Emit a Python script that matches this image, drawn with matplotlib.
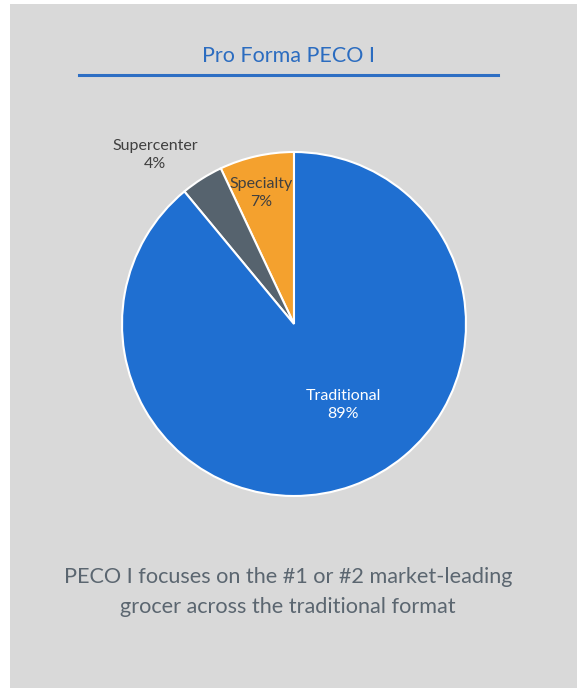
import matplotlib
matplotlib.use("Agg")
import matplotlib.pyplot as plt
from matplotlib.patches import Rectangle
from matplotlib.lines import Line2D

categories = ["Specialty", "Supercenter", "Traditional"]
values = [7, 4, 89]
pct_labels = ["7%", "4%", "89%"]
colors = ["#f4a12e", "#56636e", "#1f6fd1"]
title = "Pro Forma PECO I"
caption = "PECO I focuses on the #1 or #2 market-leading\ngrocer across the traditional format"

W, H = 581, 688
fig = plt.figure(figsize=(W / 100, H / 100), dpi=100)
fig.patch.set_facecolor("white")
fig.add_artist(Rectangle((10 / W, 0), (577 - 10) / W, (H - 4) / H,
                         transform=fig.transFigure, facecolor="#d9d9d9",
                         edgecolor="none", zorder=0))

fam = ["Lato", "DejaVu Sans"]
fig.text(288 / W, 1 - 56 / H, title, ha="center", va="center",
         fontsize=15.5, color="#2b6cc0", family=fam)
fig.add_artist(Line2D([79 / W, 498 / W], [1 - 75 / H, 1 - 75 / H],
                      transform=fig.transFigure, color="#2e6fc4", lw=2.2))

cx, cy, r = 294, 324, 172
ax = fig.add_axes([(cx - r) / W, 1 - (cy + r) / H, 2 * r / W, 2 * r / H])
ax.set_aspect("equal")
wedges, _ = ax.pie(values, colors=colors, startangle=90, counterclock=True,
                   wedgeprops=dict(edgecolor="white", linewidth=1.5))
ax.set_xlim(-1, 1)
ax.set_ylim(-1, 1)
ax.axis("off")

lab_kw = dict(ha="center", va="center", fontsize=11.5, family=fam, linespacing=1.45)
fig.text(155 / W, 1 - 155 / H, f"{categories[1]}\n{pct_labels[1]}",
         color="#404040", **lab_kw)
fig.text(261 / W, 1 - 193 / H, f"{categories[0]}\n{pct_labels[0]}",
         color="#404040", **lab_kw)
fig.text(343 / W, 1 - 405 / H, f"{categories[2]}\n{pct_labels[2]}",
         color="white", **lab_kw)

fig.text(288 / W, 1 - 592 / H, caption, ha="center", va="center",
         fontsize=15.6, color="#5b6670", family=fam, linespacing=1.6)

fig.savefig("out.png", dpi=100, facecolor="white")
